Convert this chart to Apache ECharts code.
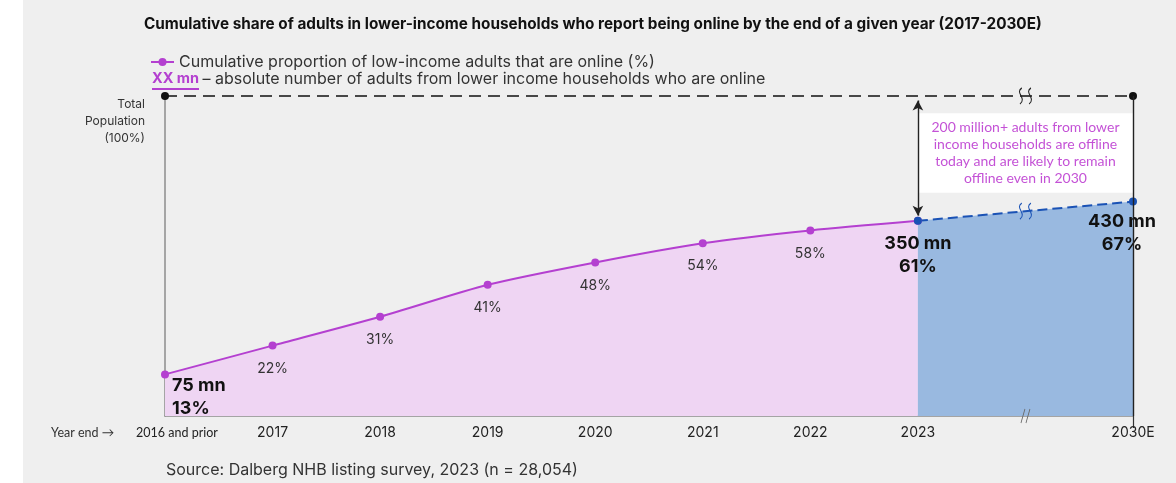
<!DOCTYPE html>
<html>
<head>
<meta charset="utf-8">
<script src="https://cdn.jsdelivr.net/npm/echarts@6/dist/echarts.min.js"></script>
<style>
  html, body { margin: 0; padding: 0; background: #ffffff; }
  #chart { width: 1176px; height: 483px; }
</style>
</head>
<body>
<div id="chart"></div>
<script>
// Year-end categories; the blank slot stands for the 2024-2029 break
const categories = ['2016 and prior', '2017', '2018', '2019', '2020', '2021', '2022', '2023', '', '2030E'];
// Cumulative share of lower-income adults online (%)
const onlineShare = [13, 22, 31, 41, 48, 54, 58, 61, null, null];
// Projection from 2023 to 2030E (%)
const projectedShare = [null, null, null, null, null, null, null, 61, null, 67];
// Absolute number of online adults (millions) where stated
const onlineMillions = { 0: 75, 7: 350, 9: 430 };

const titleText = 'Cumulative share of adults in lower-income households who report being online by the end of a given year (2017-2030E)';
const legendText = 'Cumulative proportion of low-income adults that are online (%)';
const unitNote = '– absolute number of adults from lower income households who are online';
const offlineNote = '200 million+ adults from lower\nincome households are offline\ntoday and are likely to remain\noffline even in 2030';
const cohortNote = '~275 million Indian adults from lower income households\nhave only come online in or after 2017 – they are the first\ncohort of Next Half Billion';
const sourceText = 'Source: Dalberg NHB listing survey, 2023 (n = 28,054)';

const PURPLE = '#b440d0';
const PURPLE_FILL = '#efd5f3';
const BLUE = '#1a52b5';
const BLUE_FILL = '#99b9e0';
const INK = '#222222';
const SANS = 'Inter, "Noto Sans", sans-serif';
const HUMAN = 'Lato, "Noto Sans", sans-serif';

const breakWave = 'path://M4,0 C0,4 7,9 3,14 M9,0 C5,4 12,9 8,14';
const breakSlash = 'path://M0,14 L4,0 M5,14 L9,0';

const boldLabel = { fontFamily: SANS, fontWeight: 'bold', fontSize: 18, color: '#111', lineHeight: 23 };

const purpleData = onlineShare.map((v, i) => {
  if (v == null) return null;
  if (i === 0) {
    return {
      value: v,
      label: {
        show: true, position: [11, 4], align: 'left',
        formatter: '{b|' + onlineMillions[0] + ' mn}\n{b|' + v + '%}',
        rich: { b: boldLabel }
      }
    };
  }
  if (i === 7) return { value: v, label: { show: false } };
  return v;
});

const blueData = projectedShare.map((v, i) => {
  if (v == null) return null;
  return {
    value: v,
    label: {
      show: true, position: 'bottom', distance: i === 9 ? 4 : 7,
      offset: i === 9 ? [-11, 0] : [0, 0], align: 'center',
      formatter: '{b|' + onlineMillions[i] + ' mn}\n{b|' + v + '%}',
      rich: { b: boldLabel }
    }
  };
});

const chart = echarts.init(document.getElementById('chart'));
chart.setOption({
  backgroundColor: '#efefef',
  animation: false,
  textStyle: { fontFamily: SANS },
  title: {
    text: titleText, left: 139, top: 12,
    textStyle: { fontFamily: SANS, fontSize: 15.3, fontWeight: 'bold', color: '#111' }
  },
  legend: {
    data: [legendText], left: 145, top: 49,
    itemWidth: 23, itemHeight: 10, itemGap: 8,
    textStyle: { fontFamily: SANS, fontSize: 16, color: '#333' }
  },
  grid: { left: 165, right: 43, top: 96, bottom: 67 },
  xAxis: {
    type: 'category', data: categories, boundaryGap: false,
    axisLine: { lineStyle: { color: '#8c8c8c', width: 1.5 } },
    axisTick: { show: true, interval: (i) => i === 9, length: 12, lineStyle: { color: '#333', width: 1.2 } },
    axisLabel: {
      interval: 0, margin: 10, fontFamily: SANS, fontSize: 14, color: INK,
      formatter: (v, i) => i === 0 ? '{s|' + v + '}' : v,
      rich: { s: { fontFamily: HUMAN, fontSize: 12.5, color: INK, padding: [0, 0, 0, 24] } }
    },
    splitLine: { show: false }
  },
  yAxis: {
    type: 'value', min: 0, max: 100, interval: 100,
    axisLine: { show: true, lineStyle: { color: '#8c8c8c', width: 1.5 } },
    axisTick: { show: false },
    splitLine: { show: false },
    axisLabel: {
      margin: 20, fontSize: 12, color: '#333', lineHeight: 17, verticalAlign: 'top', align: 'right',
      formatter: (v) => v === 100 ? 'Total\nPopulation\n(100%)' : ''
    }
  },
  series: [
    {
      name: legendText, type: 'line', data: purpleData, smooth: 0.25,
      symbol: 'circle', symbolSize: 8,
      lineStyle: { color: PURPLE, width: 2 },
      itemStyle: { color: PURPLE },
      areaStyle: { color: PURPLE_FILL, opacity: 1 },
      label: {
        show: true, position: 'bottom', distance: 12,
        fontFamily: SANS, fontSize: 14, color: '#333',
        formatter: (p) => p.value + '%'
      },
      markLine: {
        silent: true, animation: false,
        symbol: ['circle', 'circle'], symbolSize: 8,
        label: { show: false },
        lineStyle: { color: '#111', type: [12, 7], width: 1.5 },
        data: [{ yAxis: 100 }]
      }
    },
    {
      name: 'Projection', type: 'line', data: blueData, connectNulls: true,
      symbol: 'circle', symbolSize: 8,
      lineStyle: { color: BLUE, width: 2, type: [10, 5] },
      itemStyle: { color: BLUE },
      areaStyle: { color: BLUE_FILL, opacity: 1 },
      z: 3,
      markArea: {
        silent: true,
        itemStyle: { color: '#ffffff' },
        label: {
          show: true, position: 'inside', align: 'center',
          fontFamily: HUMAN, fontSize: 14, lineHeight: 17, color: '#c452d6',
          formatter: offlineNote
        },
        data: [[{ coord: ['2023', 94.6] }, { coord: ['2030E', 69.8] }]]
      },
      markLine: {
        silent: true, animation: false,
        label: { show: false },
        data: [
          [
            { coord: ['2023', 98.6], symbol: 'arrow', symbolSize: [8, 10] },
            { coord: ['2023', 62.6], symbol: 'arrow', symbolSize: [8, 10] }
          ],
          [
            { coord: ['2030E', 0], symbol: 'none' },
            { coord: ['2030E', 100], symbol: 'none' }
          ]
        ],
        lineStyle: { color: '#222', type: 'solid', width: 1.4 }
      },
      markPoint: {
        silent: true, animation: false,
        label: { show: false },
        data: [
          { coord: ['', 100], symbol: breakWave, symbolSize: [12, 16],
            itemStyle: { color: 'rgba(0,0,0,0)', borderColor: '#222', borderWidth: 1.2 } },
          { coord: ['', 64], symbol: breakWave, symbolSize: [12, 16],
            itemStyle: { color: 'rgba(0,0,0,0)', borderColor: BLUE, borderWidth: 1.2 } },
          { coord: ['', 0], symbol: breakSlash, symbolSize: [9, 14],
            itemStyle: { color: 'rgba(0,0,0,0)', borderColor: '#666', borderWidth: 1 } }
        ]
      }
    }
  ],
  graphic: [
    { type: 'rect', left: 0, top: 0, shape: { width: 23, height: 483 }, style: { fill: '#ffffff' }, z: -10 },
    {
      type: 'text', x: 152, y: 79,
      style: {
        text: '{a|XX mn }' + unitNote, verticalAlign: 'middle',
        rich: { a: { fontFamily: SANS, fontSize: 14.5, fontWeight: 'bold', fill: PURPLE } },
        fontFamily: SANS, fontSize: 16, fill: '#333'
      }
    },
    { type: 'line', shape: { x1: 152, y1: 89, x2: 199, y2: 89 }, style: { stroke: PURPLE, lineWidth: 2 } },
    {
      type: 'text', x: 668, y: 341,
      style: { text: cohortNote, align: 'center', verticalAlign: 'top', fontFamily: HUMAN, fontSize: 14, lineHeight: 18, fill: '#333' }
    },
    {
      type: 'text', x: 51, y: 433,
      style: { text: 'Year end →', verticalAlign: 'middle', fontFamily: HUMAN, fontSize: 12.5, fill: '#333' }
    },
    {
      type: 'text', x: 166, y: 470,
      style: { text: sourceText, verticalAlign: 'middle', fontFamily: SANS, fontSize: 16, fill: '#333' }
    }
  ]
});
</script>
</body>
</html>
